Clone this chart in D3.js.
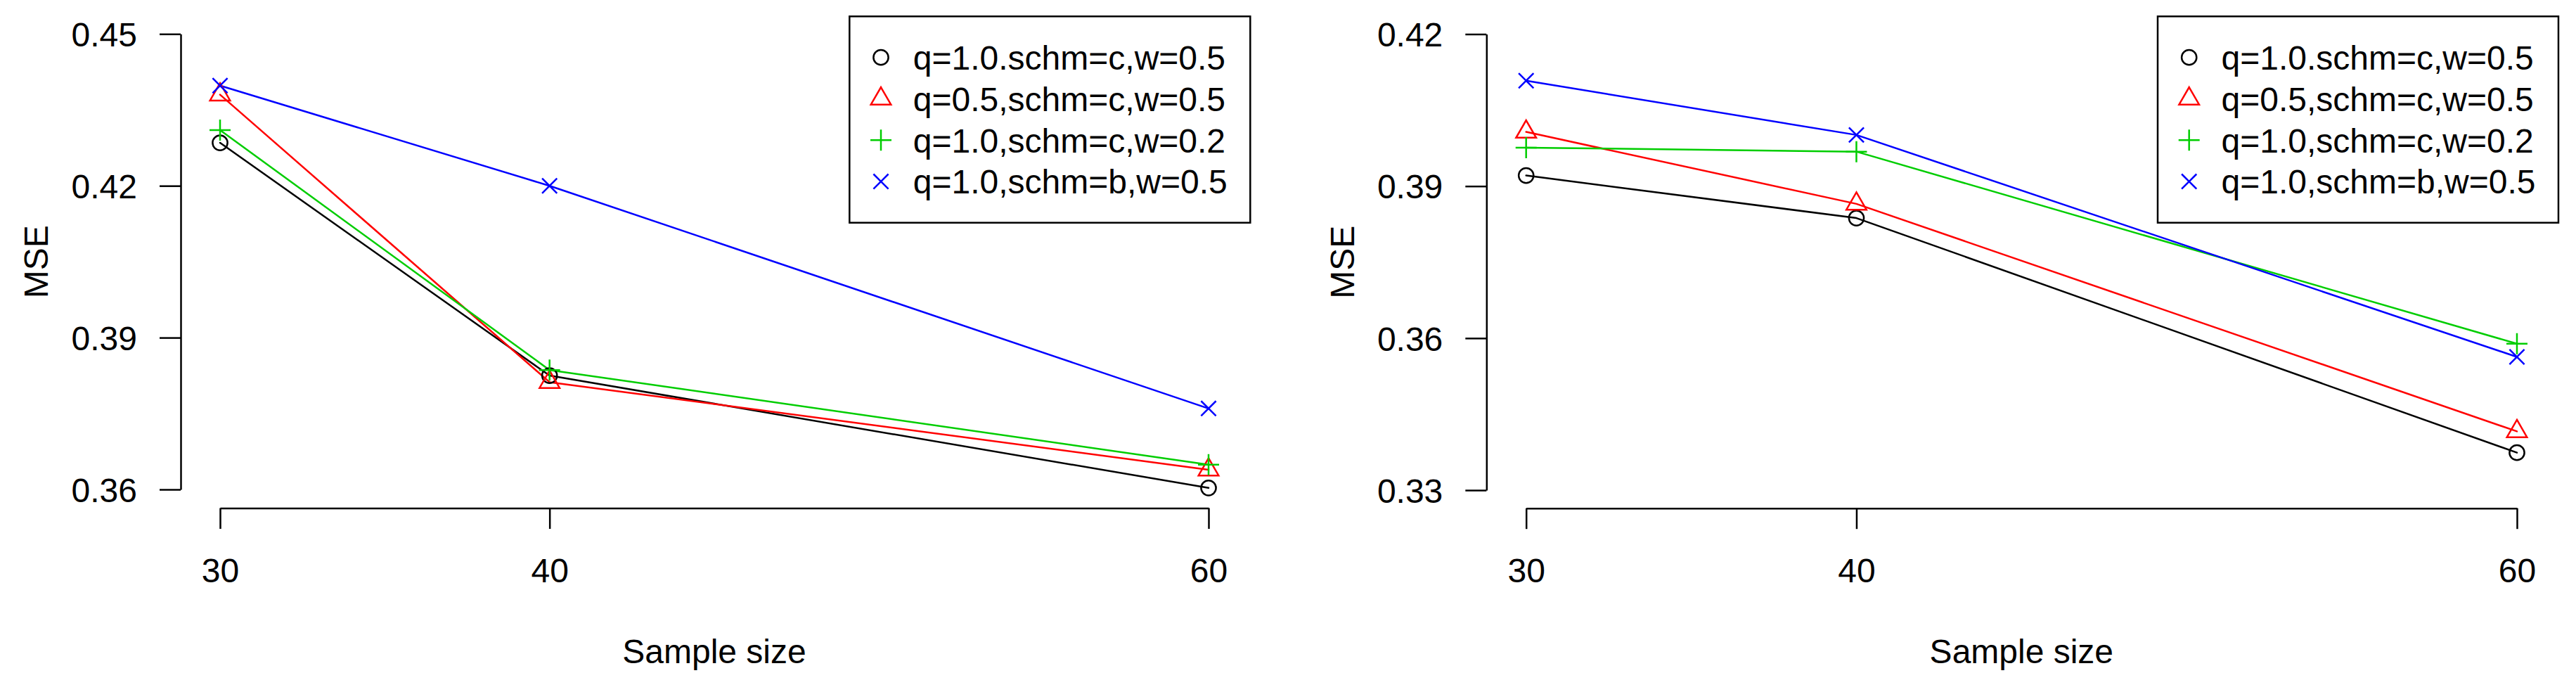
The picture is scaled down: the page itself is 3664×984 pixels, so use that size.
<!DOCTYPE html>
<html>
<head>
<meta charset="utf-8">
<script src="https://cdn.jsdelivr.net/npm/d3@7"></script>
<style>
  body { margin: 0; background: #fff; }
  svg text { font-family: "Liberation Sans", Arial, Helvetica, sans-serif; }
</style>
</head>
<body>
<div id="chart"></div>
<script>
// sample sizes on the x axis
var sampleSizes = [30, 40, 60];

// legend labels, in legend order
var seriesNames = [
  "q=1.0.schm=c,w=0.5",
  "q=0.5,schm=c,w=0.5",
  "q=1.0,schm=c,w=0.2",
  "q=1.0,schm=b,w=0.5"
];

// left panel MSE values
var leftCircle = [0.4285, 0.3825, 0.3603];
var leftTriangle = [0.4380, 0.3812, 0.3639];
var leftPlus = [0.4310, 0.3836, 0.3649];
var leftCross = [0.4398, 0.4200, 0.3760];
var leftTicks = [0.36, 0.39, 0.42, 0.45];

// right panel MSE values
var rightCircle = [0.3921, 0.3837, 0.3374];
var rightTriangle = [0.4007, 0.3865, 0.3416];
var rightPlus = [0.3976, 0.3968, 0.3589];
var rightCross = [0.4108, 0.4001, 0.3563];
var rightTicks = [0.33, 0.36, 0.39, 0.42];

var colors = ["#000000", "#FF0000", "#00CD00", "#0000FF"];
var shapes = ["circle", "triangle", "plus", "cross"];

var fontSize = 48;
var lw = 2.5;
var R0 = 10.6;

var svg = d3.select("#chart")
  .append("svg")
    .attr("width", 3664)
    .attr("height", 984);

var panels = [
  {series: [leftCircle, leftTriangle, leftPlus, leftCross], ticks: leftTicks,
   axisX: 257, x0: 313, x1: 1719, yTop: 48.3, yBot: 696, xAxisY: 722.5,
   legendX: 1208.3, mseX: 68},
  {series: [rightCircle, rightTriangle, rightPlus, rightCross], ticks: rightTicks,
   axisX: 2114.3, x0: 2170.7, x1: 3580, yTop: 48.5, yBot: 697, xAxisY: 722.7,
   legendX: 3069, mseX: 1926}
];

function drawShape(g, shape, cx, cy, color) {
  if (shape == "circle") {
    g.append("circle")
      .attr("cx", cx).attr("cy", cy).attr("r", R0)
      .attr("fill", "none").attr("stroke", color).attr("stroke-width", lw);
    return;
  }
  var d;
  if (shape == "triangle") {
    var r = 1.555 * R0;
    d = "M" + cx + "," + (cy - r) +
        "L" + (cx + r * 0.866) + "," + (cy + r / 2) +
        "L" + (cx - r * 0.866) + "," + (cy + r / 2) + "Z";
  } else if (shape == "plus") {
    var p = 1.414 * R0;
    d = "M" + (cx - p) + "," + cy + "H" + (cx + p) +
        "M" + cx + "," + (cy - p) + "V" + (cy + p);
  } else {
    var c = R0;
    d = "M" + (cx - c) + "," + (cy - c) + "L" + (cx + c) + "," + (cy + c) +
        "M" + (cx - c) + "," + (cy + c) + "L" + (cx + c) + "," + (cy - c);
  }
  g.append("path")
    .attr("d", d)
    .attr("fill", "none").attr("stroke", color).attr("stroke-width", lw);
}

panels.forEach(function(pn) {
  var x = d3.scaleLinear()
    .domain([sampleSizes[0], sampleSizes[sampleSizes.length - 1]])
    .range([pn.x0, pn.x1]);
  var y = d3.scaleLinear()
    .domain([pn.ticks[0], pn.ticks[pn.ticks.length - 1]])
    .range([pn.yBot, pn.yTop]);

  // y axis
  var yAxis = d3.axisLeft(y)
    .tickValues(pn.ticks)
    .tickFormat(d3.format(".2f"))
    .tickSizeInner(30)
    .tickSizeOuter(0)
    .tickPadding(32);
  var gy = svg.append("g")
    .attr("transform", "translate(" + pn.axisX + ",0)")
    .call(yAxis);
  gy.selectAll("path, line").attr("stroke", "#000").attr("stroke-width", lw);
  gy.selectAll("text")
    .attr("dy", "0.36em")
    .style("font-size", fontSize + "px")
    .style("font-family", "'Liberation Sans', Arial, sans-serif")
    .attr("fill", "#000");

  // x axis
  var xAxis = d3.axisBottom(x)
    .tickValues(sampleSizes)
    .tickFormat(d3.format("d"))
    .tickSizeInner(29.5)
    .tickSizeOuter(0);
  var gx = svg.append("g")
    .attr("transform", "translate(0," + pn.xAxisY + ")")
    .call(xAxis);
  gx.selectAll("path, line").attr("stroke", "#000").attr("stroke-width", lw);
  gx.selectAll("text")
    .attr("dy", null)
    .attr("y", 105.5)
    .style("font-size", fontSize + "px")
    .style("font-family", "'Liberation Sans', Arial, sans-serif")
    .attr("fill", "#000");

  // axis titles
  svg.append("text")
    .text("Sample size")
    .attr("x", (pn.x0 + pn.x1) / 2)
    .attr("y", 943.3)
    .attr("text-anchor", "middle")
    .style("font-size", fontSize + "px");

  svg.append("text")
    .text("MSE")
    .attr("transform", "translate(" + pn.mseX + "," + ((pn.yTop + pn.yBot) / 2) + ") rotate(-90)")
    .attr("text-anchor", "middle")
    .style("font-size", fontSize + "px");

  // lines then points
  var line = d3.line()
    .x(function(d, i) { return x(sampleSizes[i]); })
    .y(function(d) { return y(d); });

  pn.series.forEach(function(vals, k) {
    svg.append("path")
      .datum(vals)
      .attr("d", line)
      .attr("fill", "none")
      .attr("stroke", colors[k])
      .attr("stroke-width", lw)
      .attr("stroke-linejoin", "round")
      .attr("stroke-linecap", "round");
  });
  pn.series.forEach(function(vals, k) {
    var gp = svg.append("g");
    vals.forEach(function(v, i) {
      drawShape(gp, shapes[k], x(sampleSizes[i]), y(v), colors[k]);
    });
  });

  // legend
  var lg = svg.append("g");
  lg.append("rect")
    .attr("x", pn.legendX).attr("y", 23.3)
    .attr("width", 570).attr("height", 293.4)
    .attr("fill", "#fff").attr("stroke", "#000").attr("stroke-width", lw);
  seriesNames.forEach(function(name, k) {
    var cy = 81.7 + k * 58.8;
    drawShape(lg, shapes[k], pn.legendX + 44.7, cy, colors[k]);
    lg.append("text")
      .text(name)
      .attr("x", pn.legendX + 90.5)
      .attr("y", cy + 17.2)
      .style("font-size", fontSize + "px");
  });
});
</script>
</body>
</html>
